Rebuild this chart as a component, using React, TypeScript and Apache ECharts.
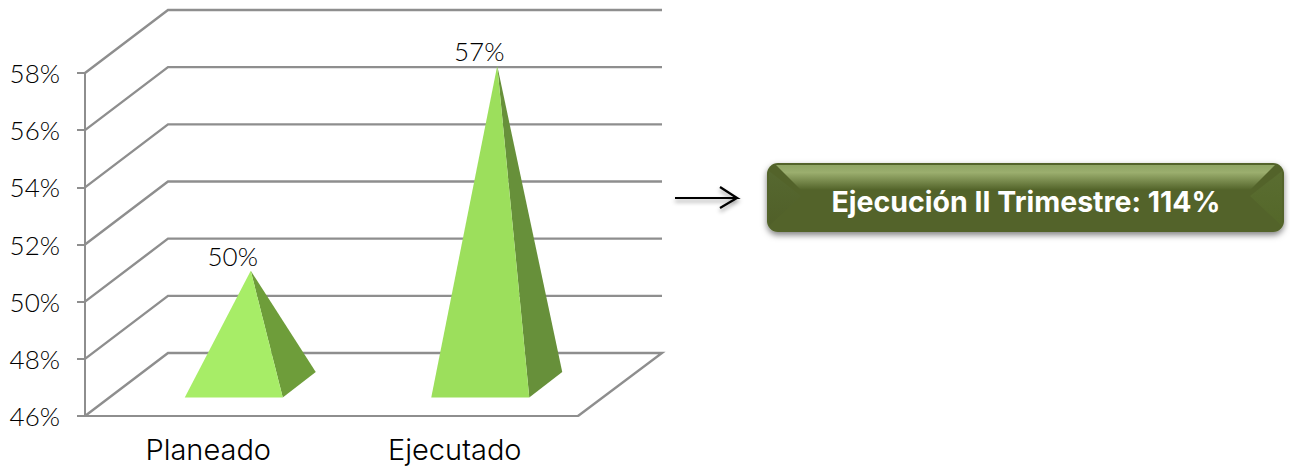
import React, { useEffect, useRef } from "react";
import * as echarts from "echarts";

const categories = ["Planeado", "Ejecutado"];
const values = [50, 57];
const valueLabels = ["50%", "57%"];
const axisTicks = [46, 48, 50, 52, 54, 56, 58];
const summaryText = "Ejecución II Trimestre: 114%";

const DIGIT_FONT = "Lato, 'Open Sans', sans-serif";
const WORD_FONT = "Inter, 'Open Sans', sans-serif";
const LINE = "#8e8e8e";
const DEPTH_X = 83;
const DEPTH_Y = 63;
const FACE_LIGHT = ["#a7ed67", "#9cdf5c"];
const FACE_DARK = ["#6e9d3a", "#67903a"];

export default function App() {
  const ref = useRef<HTMLDivElement>(null);
  useEffect(() => {
    const chart = echarts.init(ref.current!, undefined, { renderer: "svg" });
    const linear = (stops: [number, string][], x2 = 0, y2 = 1) => ({
      type: "linear", x: 0, y: 0, x2, y2, global: false,
      colorStops: stops.map(([offset, color]) => ({ offset, color })),
    });
    chart.setOption({
      animation: false,
      backgroundColor: "#ffffff",
      grid: { left: 85, top: 73, width: 493, height: 343, containLabel: false },
      xAxis: {
        type: "category",
        data: categories,
        axisLine: { lineStyle: { color: LINE, width: 2 } },
        axisTick: { show: false },
        axisLabel: {
          color: "#000000", fontFamily: WORD_FONT, fontWeight: 300, fontSize: 29, margin: 19,
        },
      },
      yAxis: {
        type: "value",
        min: 46,
        max: 58,
        interval: 2,
        axisLine: { show: true, lineStyle: { color: LINE, width: 2 } },
        axisTick: { show: true, length: 8, lineStyle: { color: LINE, width: 2 } },
        splitLine: { show: false },
        axisLabel: {
          color: "#000000", fontFamily: DIGIT_FONT, fontWeight: 300, fontSize: 26, margin: 25,
          padding: [4, 0, 0, 0],
          formatter: (v: number) => `${v}%`,
        },
      },
      series: [
        {
          type: "custom",
          name: "Paredes",
          silent: true,
          clip: false,
          z: 1,
          data: axisTicks.map((v) => [0, v]),
          renderItem: (params: any, api: any) => {
            const v = api.value(1);
            const cs = params.coordSys;
            const y = api.coord([0, v])[1];
            const left = cs.x;
            const right = cs.x + cs.width;
            const points = [
              [left, y],
              [left + DEPTH_X, y - DEPTH_Y],
              [right + DEPTH_X + 1, y - DEPTH_Y],
            ];
            if (v === axisTicks[0]) points.push([right, y]);
            return {
              type: "polyline",
              shape: { points },
              style: { stroke: LINE, lineWidth: 2.4, fill: "none" },
            };
          },
        },
        {
          type: "custom",
          name: "Valores",
          silent: true,
          clip: false,
          z: 3,
          data: values.map((v, i) => [i, v]),
          renderItem: (params: any, api: any) => {
            const i = params.dataIndex;
            const [cx, top] = api.coord([api.value(0), api.value(1)]);
            const floor = api.coord([0, axisTicks[0]])[1];
            const apex = [cx + 42.5, floor - 28 - (floor - top) * 1.025];
            const fl = [cx - 23.5, floor - 18.5];
            const fr = [cx + 74.5, floor - 18.5];
            const br = [cx + 107.5, floor - 44];
            return {
              type: "group",
              children: [
                {
                  type: "polygon",
                  shape: { points: [apex, fr, br] },
                  style: { fill: FACE_DARK[i] },
                },
                {
                  type: "polygon",
                  shape: { points: [apex, fl, fr] },
                  style: { fill: FACE_LIGHT[i] },
                },
                {
                  type: "text",
                  x: apex[0] - 18,
                  y: apex[1] - 15,
                  style: {
                    text: valueLabels[i],
                    fill: "#000000",
                    font: `300 26px ${DIGIT_FONT}`,
                    align: "center",
                    verticalAlign: "middle",
                  },
                },
              ],
            };
          },
        },
      ],
      graphic: [
        {
          type: "polyline",
          shape: { points: [[675, 198], [737, 198], [720, 187], [737, 198], [720, 208]] },
          style: {
            stroke: "#000", lineWidth: 2.2, fill: "none",
            shadowBlur: 4, shadowColor: "rgba(0,0,0,0.4)", shadowOffsetY: 3,
          },
        },
        {
          type: "rect",
          shape: { x: 767, y: 163, width: 517, height: 69, r: 11 },
          style: {
            fill: "#526329",
            shadowBlur: 6, shadowColor: "rgba(0,0,0,0.5)", shadowOffsetY: 3,
          },
        },
        {
          type: "polygon",
          shape: { points: [[776, 165], [1275, 165], [1250, 190], [801, 190]] },
          style: {
            fill: linear([[0, "#8fa564"], [0.3, "#9bae6e"], [1, "#526329"]]),
          },
        },
        {
          type: "polygon",
          shape: { points: [[769, 171], [801, 196], [769, 226]] },
          style: { fill: linear([[0, "#566830"], [1, "#505f28"]]) },
        },
        {
          type: "polygon",
          shape: { points: [[1282, 171], [1250, 196], [1282, 226]] },
          style: { fill: linear([[0, "#5a6d31"], [1, "#546729"]]) },
        },
        {
          type: "text",
          x: 1026,
          y: 201,
          style: {
            text: summaryText,
            fill: "#ffffff",
            font: `bold 28.5px ${WORD_FONT}`,
            align: "center",
            verticalAlign: "middle",
          },
        },
      ],
    });
    return () => chart.dispose();
  }, []);
  return (
    <div
      ref={ref}
      style={{ position: "fixed", left: 0, top: 0, width: 1290, height: 468 }}
    />
  );
}
